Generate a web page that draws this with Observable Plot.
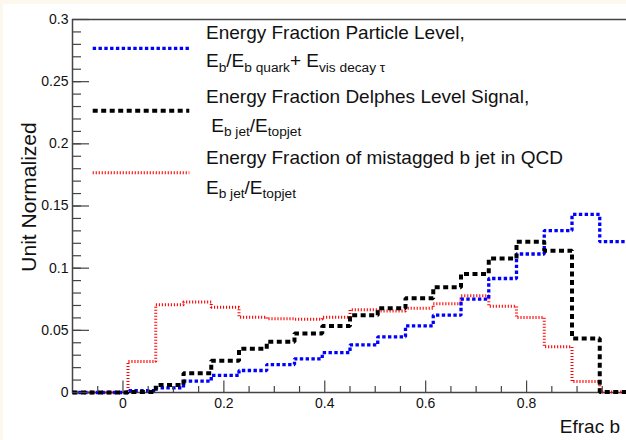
<!DOCTYPE html>
<html><head><meta charset="utf-8">
<script src="https://cdn.jsdelivr.net/npm/d3@7"></script>
<script src="https://cdn.jsdelivr.net/npm/@observablehq/plot@0.6"></script>
<style>
html,body{margin:0;padding:0;background:#fcf8ed;width:626px;height:440px;overflow:hidden;}
#chart{position:absolute;left:3px;top:4px;}
#chart svg{background:#fff;display:block;}
</style></head><body><div id="chart"></div>
<script>
// ---- data ----
const binEdges = [-0.1,-0.045,0.01,0.065,0.12,0.175,0.23,0.285,0.34,0.395,0.45,0.505,0.56,0.615,0.67,0.725,0.78,0.835,0.89,0.945,1.0];
const particleLevel = [0,0,0.0015,0.0038,0.0091,0.0137,0.0177,0.0225,0.0271,0.0320,0.0383,0.0448,0.0536,0.0622,0.0751,0.0917,0.1114,0.1302,0.1432,0.1213];
const delphesSignal = [0,0,0.0005,0.0060,0.0155,0.0255,0.0351,0.0408,0.0475,0.0535,0.0622,0.0678,0.0759,0.0847,0.0953,0.1077,0.1212,0.1141,0.0435,0.0005];
const mistagQCD = [0,0,0.0250,0.0705,0.0727,0.0686,0.0606,0.0593,0.0590,0.0606,0.0665,0.0655,0.0678,0.0713,0.0778,0.0694,0.0603,0.0367,0.0088,0.0005];
const xTickLabels = [0,0.2,0.4,0.6,0.8];
const xMinorTicks = [-0.05,0.05,0.1,0.15,0.25,0.3,0.35,0.45,0.5,0.55,0.65,0.7,0.75,0.85,0.9,0.95];
const yTickLabels = [0,0.05,0.1,0.15,0.2,0.25,0.3];
const yMinorTicks = d3.range(1,30).map(i => i/100);
const xTitle = "Efrac b";
const yTitle = "Unit Normalized";
const legendTitles = ["Energy Fraction Particle Level,", "Energy Fraction Delphes Level Signal,", "Energy Fraction of mistagged b jet in QCD"];
// formula line segments: [text, isSubscript]
const legendFormulas = [
  [["E",0],["b",1],["/E",0],["b quark",1],["+ E",0],["vis decay τ",1]],
  [["\u00a0E",0],["b jet",1],["/E",0],["topjet",1]],
  [["E",0],["b jet",1],["/E",0],["topjet",1]]
];

// ---- styles ----
const styles = [
  {stroke:"#0000ff", strokeWidth:3.3, dash:"3.4 2.4"},
  {stroke:"#000000", strokeWidth:4, dash:"5 3.5"},
  {stroke:"#ff0000", strokeWidth:3, dash:"1.1 1.9"}
];
const font = "'Liberation Sans', Arial, Helvetica, sans-serif";
const fmt = d => String(d);

function stepPoints(vals){
  return binEdges.map((e,i) => ({x:e, y: vals[Math.min(i, vals.length-1)]}));
}

const W = 623, H = 436, mL = 69, mT = 15, mB = 48, mR = -1;
const frameW = W - mL - mR, frameH = H - mT - mB;

const series = [particleLevel, delphesSignal, mistagQCD];
const drawOrder = [2,0,1];

const plot = Plot.plot({
  width: W, height: H,
  marginLeft: mL, marginRight: mR, marginTop: mT, marginBottom: mB,
  style: {fontFamily: font, background: "white", overflow: "visible"},
  x: {domain: [-0.1, 1.0]},
  y: {domain: [0, 0.3]},
  marks: [
    Plot.frame({stroke:"#444", strokeWidth:1.5}),
    ...drawOrder.map(k => Plot.line(stepPoints(series[k]), {
      x:"x", y:"y", curve:"step-after",
      stroke: styles[k].stroke, strokeWidth: styles[k].strokeWidth,
      strokeDasharray: styles[k].dash, strokeLinecap:"butt", strokeLinejoin:"miter"
    })),
    Plot.tickX(xTickLabels, {x: d=>d, insetTop: frameH - 11.5, stroke:"#444", strokeWidth:1.2}),
    Plot.tickX(xMinorTicks, {x: d=>d, insetTop: frameH - 6, stroke:"#444", strokeWidth:1.2}),
    Plot.tickY(yTickLabels, {y: d=>d, insetRight: frameW - 17, stroke:"#444", strokeWidth:1.2}),
    Plot.tickY(yMinorTicks, {y: d=>d, insetRight: frameW - 9, stroke:"#444", strokeWidth:1.2}),
    Plot.axisX(xTickLabels, {tickSize:0, tickPadding:6, fontSize:14, label:null, color:"#111", tickFormat: fmt}),
    Plot.axisY(yTickLabels, {tickSize:0, tickPadding:4, fontSize:14, label:null, color:"#111", tickFormat: fmt})
  ]
});
document.getElementById("chart").appendChild(plot);

// ---- titles and legend ----
const svg = d3.select(plot);
svg.append("text").attr("x", 617).attr("y", 429.3).attr("text-anchor","end")
  .attr("font-family", font).attr("font-size", 19).attr("fill","#111").text(xTitle);
svg.append("text").attr("transform","translate(33,193) rotate(-90)").attr("text-anchor","middle")
  .attr("font-family", font).attr("font-size", 21).attr("fill","#111").text(yTitle);

const legendLineY = [44.3, 106.7, 168.7];
const legendBase = [[34.5, 63], [98.8, 127.8], [160.2, 189.5]];
const legendOrder = [0,1,2];
legendOrder.forEach((k, i) => {
  const s = styles[k];
  svg.append("line").attr("x1", 89.7).attr("x2", 186.3).attr("y1", legendLineY[i]).attr("y2", legendLineY[i])
    .attr("stroke", s.stroke).attr("stroke-width", s.strokeWidth).attr("stroke-dasharray", s.dash);
  svg.append("text").attr("x", 203).attr("y", legendBase[i][0]).attr("text-anchor","start")
    .attr("font-family", font).attr("font-size", 19).attr("fill","#111").text(legendTitles[k]);
  const t = svg.append("text").attr("x", 203).attr("y", legendBase[i][1]).attr("text-anchor","start")
    .attr("font-family", font).attr("font-size", 19).attr("fill","#111");
  let cur = 0;
  legendFormulas[k].forEach(([txt, sub]) => {
    const target = sub ? 4.5 : 0;
    t.append("tspan").attr("dy", target - cur).attr("font-size", sub ? 13.7 : 19).text(txt);
    cur = target;
  });
});
</script>
</body></html>
